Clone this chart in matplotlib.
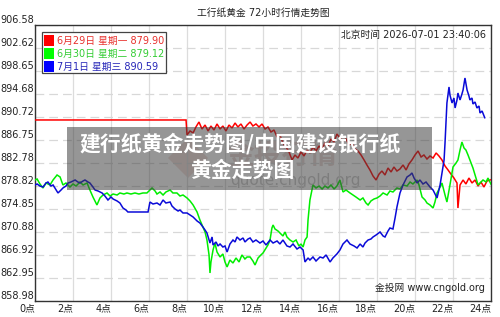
import matplotlib
matplotlib.use("Agg")
import matplotlib.pyplot as plt
import matplotlib.transforms as mtransforms
from matplotlib.patches import Rectangle, Polygon

plt.rcParams['font.family'] = ['DejaVu Sans', 'Noto Sans CJK SC']

# 数据 (小时, 价格)
red_data = [
    (0, 890.20), (7.95, 890.20), (8.00, 887.61), (8.16, 888.30), (8.32, 887.96), (8.47, 888.99),
    (8.63, 889.85), (8.79, 888.64), (8.95, 889.33), (9.11, 888.30), (9.26, 889.16), (9.42, 888.47),
    (9.58, 889.51), (9.74, 888.64), (9.89, 889.16), (10.05, 888.30), (10.21, 889.33), (10.37, 888.82),
    (10.53, 889.68), (10.68, 888.99), (10.84, 889.51), (11.00, 888.64), (11.16, 889.33), (11.32, 889.85),
    (11.47, 889.16), (11.63, 889.51), (11.79, 888.99), (11.95, 889.51), (12.11, 888.64), (12.26, 888.99),
    (12.42, 888.13), (12.58, 888.47), (12.74, 887.26), (12.89, 887.61), (13.05, 886.23), (13.21, 885.54),
    (13.37, 884.68), (13.53, 883.30), (13.68, 884.16), (13.84, 883.64), (14.00, 884.68), (14.16, 883.99),
    (14.32, 885.02), (14.47, 884.51), (14.63, 885.54), (14.79, 884.85), (14.95, 885.71), (15.11, 885.20),
    (15.26, 886.23), (15.42, 885.71), (15.58, 886.92), (15.74, 886.40), (15.89, 887.78), (16.05, 887.09),
    (16.21, 886.57), (16.37, 886.92), (16.53, 885.89), (16.68, 886.23), (16.84, 885.20), (17.00, 884.85),
    (17.16, 884.16), (17.32, 883.30), (17.47, 882.44), (17.63, 881.57), (17.79, 880.54), (17.95, 879.85),
    (18.11, 880.88), (18.26, 881.40), (18.42, 880.71), (18.58, 881.92), (18.74, 881.23), (18.89, 882.09),
    (19.05, 881.40), (19.21, 881.75), (19.37, 882.44), (19.53, 881.57), (19.68, 882.61), (19.84, 883.30),
    (20.00, 884.16), (20.16, 884.85), (20.32, 883.82), (20.47, 884.16), (20.63, 883.47), (20.79, 883.99),
    (20.95, 883.64), (21.11, 884.51), (21.26, 883.99), (21.42, 883.30), (21.58, 882.26), (21.74, 881.57),
    (21.89, 880.88), (22.05, 880.19), (22.21, 879.33), (22.26, 875.02), (22.37, 878.99), (22.53, 879.85),
    (22.68, 879.16), (22.84, 880.19), (23.00, 879.33), (23.16, 879.85), (23.32, 878.81), (23.47, 879.50),
    (23.63, 878.64), (23.79, 879.68), (24.00, 879.90),
]

green_data = [
    (0, 879.85), (0.11, 880.02), (0.26, 879.16), (0.42, 878.47), (0.58, 879.33), (0.79, 878.99),
    (0.95, 879.85), (1.16, 880.71), (1.32, 880.37), (1.47, 878.99), (1.63, 879.33), (1.84, 878.64),
    (2.00, 879.16), (2.16, 878.81), (2.37, 879.50), (2.53, 878.99), (2.74, 879.33), (2.89, 878.12),
    (3.05, 876.92), (3.26, 875.54), (3.42, 876.75), (3.58, 877.26), (3.79, 877.61), (3.95, 877.09),
    (4.11, 877.43), (4.32, 877.26), (4.47, 877.61), (4.68, 877.43), (4.84, 877.61), (5.05, 877.43),
    (5.26, 877.61), (5.47, 877.43), (5.68, 877.61), (5.89, 877.61), (6.05, 878.12), (6.16, 878.47),
    (6.32, 877.95), (6.42, 877.43), (6.58, 877.78), (6.74, 877.26), (6.89, 877.78), (7.11, 878.12),
    (7.26, 877.61), (7.47, 877.61), (7.63, 877.09), (7.79, 877.26), (8.00, 876.75), (8.16, 876.23),
    (8.32, 875.54), (8.53, 874.33), (8.68, 872.95), (8.84, 871.74), (8.95, 870.88), (9.05, 869.50),
    (9.16, 866.92), (9.21, 863.81), (9.26, 865.71), (9.37, 867.78), (9.47, 868.98), (9.58, 867.43),
    (9.74, 866.57), (9.89, 867.09), (10.00, 865.71), (10.11, 864.85), (10.26, 866.05), (10.42, 865.53),
    (10.58, 866.40), (10.74, 865.71), (10.89, 866.92), (11.05, 866.23), (11.16, 866.57), (11.32, 866.57),
    (11.47, 865.88), (11.58, 865.19), (11.74, 866.40), (11.89, 866.92), (12.00, 867.26), (12.16, 868.12),
    (12.26, 868.64), (12.37, 869.50), (12.47, 871.57), (12.53, 872.09), (12.63, 871.40), (12.79, 871.05),
    (12.89, 870.71), (13.05, 870.19), (13.16, 870.88), (13.26, 870.02), (13.42, 869.50), (13.58, 869.16),
    (13.74, 869.50), (13.89, 868.47), (14.00, 868.81), (14.11, 868.29), (14.21, 869.50), (14.32, 870.02),
    (14.37, 872.95), (14.47, 876.40), (14.58, 878.12), (14.63, 878.99), (14.79, 878.47), (14.95, 878.81),
    (15.11, 878.30), (15.26, 878.81), (15.42, 878.47), (15.58, 878.99), (15.74, 878.30), (15.89, 878.81),
    (16.05, 879.85), (16.21, 877.78), (16.37, 878.12), (16.58, 877.61), (16.74, 877.26), (16.89, 876.92),
    (17.11, 876.40), (17.26, 876.75), (17.42, 875.88), (17.53, 875.54), (17.68, 876.23), (17.84, 876.57),
    (18.00, 876.75), (18.16, 877.09), (18.32, 877.61), (18.53, 877.26), (18.68, 877.95), (18.84, 877.78),
    (19.05, 878.47), (19.21, 878.30), (19.37, 878.99), (19.58, 878.81), (19.74, 879.50), (19.89, 879.16),
    (20.11, 879.85), (20.21, 878.99), (20.37, 876.92), (20.53, 876.40), (20.63, 875.88), (20.79, 875.54),
    (20.95, 875.02), (21.05, 876.05), (21.16, 877.61), (21.32, 878.64), (21.42, 879.33), (21.58, 877.26),
    (21.68, 876.05), (21.84, 878.99), (22.00, 882.09), (22.16, 882.78), (22.26, 883.30), (22.37, 885.02),
    (22.47, 886.40), (22.58, 885.37), (22.68, 885.02), (22.79, 884.16), (22.89, 883.30), (23.05, 881.92),
    (23.16, 880.71), (23.32, 878.99), (23.42, 879.33), (23.58, 879.85), (23.74, 879.50), (23.84, 880.19),
    (24.00, 879.12),
]

blue_data = [
    (0, 878.99), (0.11, 879.16), (0.26, 878.81), (0.42, 878.64), (0.58, 879.33), (0.68, 879.50),
    (0.84, 878.81), (0.95, 878.99), (1.11, 878.12), (1.21, 877.61), (1.37, 878.12), (1.47, 878.47),
    (1.63, 878.81), (1.74, 879.33), (1.89, 879.50), (2.11, 879.85), (2.26, 879.50), (2.37, 879.33),
    (2.53, 879.68), (2.63, 879.85), (2.79, 879.50), (2.89, 879.33), (3.05, 878.64), (3.16, 878.12),
    (3.32, 877.95), (3.53, 877.61), (3.68, 877.09), (3.84, 876.40), (4.00, 876.92), (4.11, 876.57),
    (4.32, 876.23), (4.47, 875.88), (4.63, 875.02), (4.79, 874.67), (4.89, 874.33), (5.95, 874.33),
    (6.05, 876.05), (6.21, 875.71), (6.42, 875.88), (6.58, 875.54), (6.74, 876.40), (6.89, 875.88),
    (7.11, 876.05), (7.21, 875.36), (7.37, 874.85), (7.53, 874.50), (7.63, 874.67), (7.79, 874.16),
    (8.00, 874.16), (8.16, 873.81), (8.32, 873.47), (8.53, 872.78), (8.68, 872.43), (8.84, 871.74),
    (8.95, 871.22), (9.05, 870.71), (9.16, 869.50), (9.21, 868.98), (9.32, 870.02), (9.37, 868.64),
    (9.53, 869.16), (9.63, 868.47), (9.74, 868.81), (9.89, 868.29), (10.00, 868.47), (10.11, 867.43),
    (10.26, 868.81), (10.42, 869.50), (10.53, 869.16), (10.63, 870.02), (10.79, 869.50), (10.95, 869.85),
    (11.05, 869.16), (11.21, 869.67), (11.32, 869.85), (11.47, 869.16), (11.63, 869.50), (11.84, 868.98),
    (12.00, 869.33), (12.16, 868.64), (12.37, 869.50), (12.53, 868.98), (12.74, 869.33), (12.89, 868.81),
    (13.05, 869.50), (13.26, 868.47), (13.42, 868.29), (13.58, 868.81), (13.79, 867.95), (13.95, 868.29),
    (14.11, 867.78), (14.21, 865.71), (14.37, 866.40), (14.47, 866.05), (14.63, 866.57), (14.79, 865.88),
    (15.00, 866.57), (15.16, 866.40), (15.32, 866.92), (15.53, 865.71), (15.68, 866.40), (15.89, 867.09),
    (16.05, 867.78), (16.21, 868.81), (16.42, 869.50), (16.58, 868.81), (16.79, 868.47), (16.95, 868.12),
    (17.11, 868.81), (17.26, 868.29), (17.37, 868.98), (17.53, 869.50), (17.68, 869.67), (17.79, 870.02),
    (17.95, 870.36), (18.16, 870.88), (18.32, 870.19), (18.42, 870.02), (18.58, 871.05), (18.68, 871.57),
    (18.84, 871.40), (18.95, 873.29), (19.05, 875.19), (19.21, 877.61), (19.37, 878.99), (19.58, 880.37),
    (19.74, 880.71), (19.84, 881.06), (19.95, 880.19), (20.11, 879.33), (20.26, 879.85), (20.42, 879.16),
    (20.58, 879.50), (20.79, 878.64), (20.95, 878.12), (21.16, 876.75), (21.32, 878.99), (21.42, 881.06),
    (21.53, 883.30), (21.58, 886.23), (21.68, 893.13), (21.79, 895.89), (21.84, 894.51), (21.95, 893.13),
    (22.05, 893.99), (22.11, 892.27), (22.21, 893.65), (22.26, 894.85), (22.37, 893.65), (22.47, 894.68),
    (22.53, 895.37), (22.63, 897.44), (22.74, 895.37), (22.84, 894.34), (22.89, 893.65), (23.00, 893.99),
    (23.05, 892.96), (23.16, 893.30), (23.26, 892.27), (23.37, 892.61), (23.42, 891.40), (23.53, 891.75),
    (23.67, 890.59),
]

series = [
    ("6月29日 星期一 879.90", red_data, "#ff0000", "#e8302c", "#ff0000"),
    ("6月30日 星期二 879.12", green_data, "#00ee00", "#33cc33", "#00ff00"),
    ("7月1日 星期三 890.59", blue_data, "#0a0ad8", "#2626b8", "#0000ff"),
]

y_ticks = [858.98, 862.95, 866.92, 870.88, 874.85, 878.82, 882.78,
           886.75, 890.72, 894.68, 898.65, 902.62, 906.58]
x_ticks = list(range(0, 25, 2))
x_labels = [f"{h}点" for h in x_ticks]

W, H = 500, 317
fig = plt.figure(figsize=(W / 100, H / 100), dpi=100)
fig.patch.set_facecolor("white")
ax = fig.add_axes([35 / W, 16 / H, 456 / W, 276 / H])

ax.set_xlim(0, 24)
ax.set_ylim(y_ticks[0], y_ticks[-1])
ax.set_xticks(x_ticks)
ax.set_yticks(y_ticks)
ax.tick_params(length=0, labelbottom=False, labelleft=False)
ax.xaxis.grid(True, color="#dcdcdc", lw=0.9, ls="-")
ax.yaxis.grid(True, color="#d8d8d8", lw=0.9, ls=(0, (7, 4)))
ax.set_axisbelow(True)
for sp in ax.spines.values():
    sp.set_color("#333333")
    sp.set_linewidth(1.0)

# 刻度文字
ytrans = mtransforms.offset_copy(ax.get_yaxis_transform(), fig=fig, x=-1, y=2, units="dots")
for v in y_ticks:
    ax.text(0, v, f"{v:.2f}", transform=ytrans, ha="right", va="baseline",
            fontsize=7, color="#222222", clip_on=False)
xtrans = mtransforms.offset_copy(ax.get_xaxis_transform(), fig=fig, x=0, y=-2, units="dots")
for h, lab in zip(x_ticks, x_labels):
    ax.text(h, 0, lab, transform=xtrans, ha="right", va="top",
            fontsize=7, color="#222222", clip_on=False)

# 背景水印
px = lambda x, y: (x / W, 1 - y / H)
fig.patches.append(Polygon([px(188, 138), px(208, 158), px(188, 178), px(168, 158)],
                           closed=True, transform=fig.transFigure,
                           facecolor="#e8c8c0", edgecolor="none", alpha=0.6, zorder=1))
fig.text(*px(282, 156), "金投行情", fontsize=20, color="#e6d6d2", ha="center", va="center",
         fontweight="bold", zorder=1)
fig.text(*px(295, 181), "quote.cngold.org", fontsize=11, color="#c8c8c8", ha="center",
         va="center", zorder=1)

for name, data, lc, tc, sc in series:
    hours = [d[0] for d in data]
    prices = [d[1] for d in data]
    ax.plot(hours, prices, color=lc, lw=1.1, solid_joinstyle="miter", zorder=3)

ax.set_zorder(2)
ax.patch.set_alpha(0)

# 标题与说明文字
fig.text(263 / W, 1 - 13 / H, "工行纸黄金 72小时行情走势图", ha="center", va="center",
         fontsize=7, color="#222222")
fig.text(486 / W, 1 - 35 / H, "北京时间 2026-07-01 23:40:06", ha="right", va="center",
         fontsize=7, color="#222222", zorder=5)
fig.text(485 / W, 1 - 288 / H, "金投网 www.cngold.org", ha="right", va="center",
         fontsize=7, color="#222222", zorder=5)

# 图例
fig.patches.append(Rectangle(px(42, 73), 124 / W, 41 / H, transform=fig.transFigure,
                             facecolor="white", edgecolor="#444444", lw=0.9, zorder=6))
for i, (name, data, lc, tc, sc) in enumerate(series):
    yc = 40.5 + 13 * i
    fig.patches.append(Rectangle(px(44, yc + 5), 10 / W, 10 / H, transform=fig.transFigure,
                                 facecolor=sc, edgecolor="none", zorder=7))
    fig.text(*px(57, yc), name, ha="left", va="center", fontsize=7, color=tc, zorder=7)

# 覆盖层
fig.patches.append(Rectangle(px(67, 190), 365 / W, 63 / H, transform=fig.transFigure,
                             facecolor="#404040", edgecolor="none", alpha=0.55, zorder=10))
fig.text(*px(240, 144), "建行纸黄金走势图/中国建设银行纸", ha="center", va="center",
         fontsize=15, fontweight="bold", color="white", family=["Noto Sans CJK SC"], zorder=11)
fig.text(*px(242, 170), "黄金走势图", ha="center", va="center",
         fontsize=15, fontweight="bold", color="white", family=["Noto Sans CJK SC"], zorder=11)

fig.savefig("out.png", dpi=100)
